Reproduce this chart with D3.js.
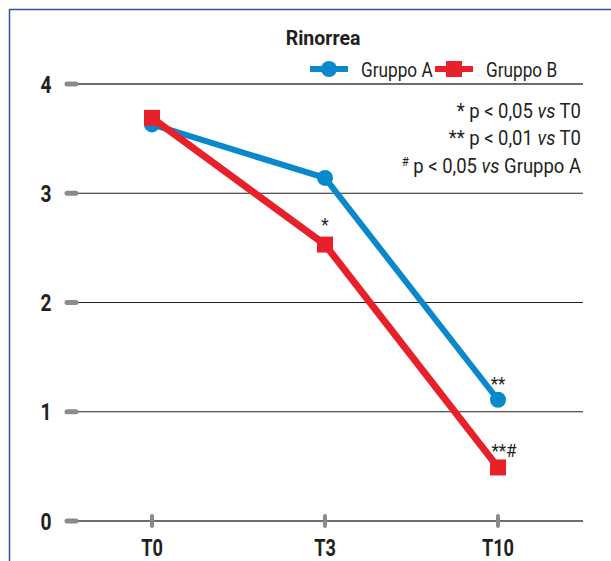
<!DOCTYPE html>
<html>
<head>
<meta charset="utf-8">
<script src="https://cdn.jsdelivr.net/npm/d3@7"></script>
<style>
  body { margin: 0; background: #fff; }
  text { font-family: "Roboto", "Liberation Sans", sans-serif; fill: #231f20; }
</style>
</head>
<body>
<svg width="611" height="561"></svg>
<script>
const svg = d3.select('svg');

// dati
const categories = ['T0', 'T3', 'T10'];
const gruppoA = [3.63, 3.14, 1.11];
const gruppoB = [3.69, 2.53, 0.49];
const yTicks = [0, 1, 2, 3, 4];
const markA = ['', '', '**'];
const markB = ['', '*', '**#'];
const notes = [
    [{t: '* p < 0,05 '}, {t: 'vs', i: true}, {t: ' T0'}],
    [{t: '** p < 0,01  '}, {t: 'vs', i: true}, {t: ' T0'}],
    [{t: '#', sup: true}, {t: ' p < 0,05 '}, {t: 'vs', i: true}, {t: ' Gruppo A'}]
];

const blue = '#0a88cc';
const red = '#e8202a';

// cornice
svg.append('path')
    .attr('d', 'M9.5,561 V9.5 H611')
    .attr('fill', 'none')
    .attr('stroke', '#2a5a9a')
    .attr('stroke-width', 1.5);

const xScale = d3.scalePoint()
    .domain(categories)
    .range([152, 498]);

const yScale = d3.scaleLinear()
    .domain([0, 4])
    .range([521, 84]);

// griglia
const grid = svg.append('g');
grid.selectAll('line').data(yTicks)
    .enter().append('line')
    .attr('x1', 72).attr('x2', 583)
    .attr('y1', d => yScale(d)).attr('y2', d => yScale(d))
    .attr('stroke', d => (d === 0 || d === 4) ? '#6d6e70' : '#231f20')
    .attr('stroke-width', d => (d === 0 || d === 4) ? 2 : 1.2);

// tacche asse y
grid.selectAll('.ytick').data(yTicks)
    .enter().append('line')
    .attr('class', 'ytick')
    .attr('x1', 67).attr('x2', 76)
    .attr('y1', d => yScale(d)).attr('y2', d => yScale(d))
    .attr('stroke', '#8a8b8d')
    .attr('stroke-width', 5)
    .attr('stroke-linecap', 'round');

grid.selectAll('.ylab').data(yTicks)
    .enter().append('text')
    .attr('class', 'ylab')
    .attr('transform', d => `translate(46, ${yScale(d) + 8.5}) scale(0.8,1)`)
    .attr('text-anchor', 'middle')
    .style('font-size', '24px')
    .style('font-weight', 'bold')
    .text(d => d);

// tacche asse x
grid.selectAll('.xtick').data(categories)
    .enter().append('line')
    .attr('class', 'xtick')
    .attr('x1', d => xScale(d)).attr('x2', d => xScale(d))
    .attr('y1', 516).attr('y2', 526)
    .attr('stroke', '#8a8b8d')
    .attr('stroke-width', 4)
    .attr('stroke-linecap', 'round');

grid.selectAll('.xlab').data(categories)
    .enter().append('text')
    .attr('class', 'xlab')
    .attr('transform', d => `translate(${xScale(d)}, 556) scale(0.79,1)`)
    .attr('text-anchor', 'middle')
    .style('font-size', '23px')
    .style('font-weight', 'bold')
    .text(d => d);

// linee
const line = d3.line()
    .x((d, i) => xScale(categories[i]))
    .y(d => yScale(d));

svg.append('path')
    .datum(gruppoA)
    .attr('d', line)
    .attr('fill', 'none')
    .attr('stroke', blue)
    .attr('stroke-width', 6);

svg.selectAll('.ptA').data(gruppoA)
    .enter().append('circle')
    .attr('class', 'ptA')
    .attr('cx', (d, i) => xScale(categories[i]))
    .attr('cy', d => yScale(d))
    .attr('r', 8)
    .attr('fill', blue);

svg.append('path')
    .datum(gruppoB)
    .attr('d', line)
    .attr('fill', 'none')
    .attr('stroke', red)
    .attr('stroke-width', 7);

svg.selectAll('.ptB').data(gruppoB)
    .enter().append('rect')
    .attr('class', 'ptB')
    .attr('x', (d, i) => xScale(categories[i]) - 8)
    .attr('y', d => yScale(d) - 8)
    .attr('width', 16)
    .attr('height', 16)
    .attr('fill', red);

// asterischi
svg.selectAll('.mA').data(markA)
    .enter().append('text')
    .attr('class', 'mA')
    .attr('transform', (d, i) => `translate(${xScale(categories[i])}, ${yScale(gruppoA[i]) - 10}) scale(0.9,1)`)
    .attr('text-anchor', 'middle')
    .style('font-size', '19px')
    .text(d => d);

svg.selectAll('.mB').data(markB)
    .enter().append('text')
    .attr('class', 'mB')
    .attr('transform', (d, i) => {
        const x = xScale(categories[i]) + (d.length > 2 ? 6 : 0);
        const y = i === 1 ? yScale(gruppoA[i]) + 53 : yScale(gruppoB[i]) - 10;
        return `translate(${x}, ${y}) scale(0.9,1)`;
    })
    .attr('text-anchor', 'middle')
    .style('font-size', '19px')
    .text(d => d);

// titolo
svg.append('text')
    .attr('transform', 'translate(323, 45) scale(0.93,1)')
    .attr('text-anchor', 'middle')
    .style('font-size', '21px')
    .style('font-weight', 'bold')
    .text('Rinorrea');

// legenda
const legend = [
    {name: 'Gruppo A', color: blue, shape: 'circle', x: 310},
    {name: 'Gruppo B', color: red, shape: 'rect', x: 435}
];
const lg = svg.selectAll('.leg').data(legend)
    .enter().append('g')
    .attr('class', 'leg')
    .attr('transform', d => `translate(${d.x}, 69)`);
lg.append('line')
    .attr('x1', 0).attr('x2', 38)
    .attr('stroke', d => d.color)
    .attr('stroke-width', 6);
lg.filter(d => d.shape === 'circle').append('circle')
    .attr('cx', 19).attr('r', 8)
    .attr('fill', d => d.color);
lg.filter(d => d.shape === 'rect').append('rect')
    .attr('x', 11).attr('y', -8)
    .attr('width', 16).attr('height', 16)
    .attr('fill', d => d.color);
lg.append('text')
    .attr('transform', 'translate(51, 7.5) scale(0.82,1)')
    .style('font-size', '21px')
    .text(d => d.name);

// note
const nt = svg.selectAll('.note').data(notes)
    .enter().append('text')
    .attr('class', 'note')
    .attr('transform', (d, i) => `translate(581, ${117.5 + i * 27.5}) scale(0.88,1)`)
    .attr('text-anchor', 'end')
    .style('font-size', '21px');
nt.selectAll('tspan').data(d => d)
    .enter().append('tspan')
    .style('font-style', d => d.i ? 'italic' : 'normal')
    .style('font-size', d => d.sup ? '13px' : null)
    .attr('dy', (d, i, n) => d.sup ? -7 : (i > 0 && n[i - 1].__data__.sup ? 7 : 0))
    .text(d => d.t);
</script>
</body>
</html>
